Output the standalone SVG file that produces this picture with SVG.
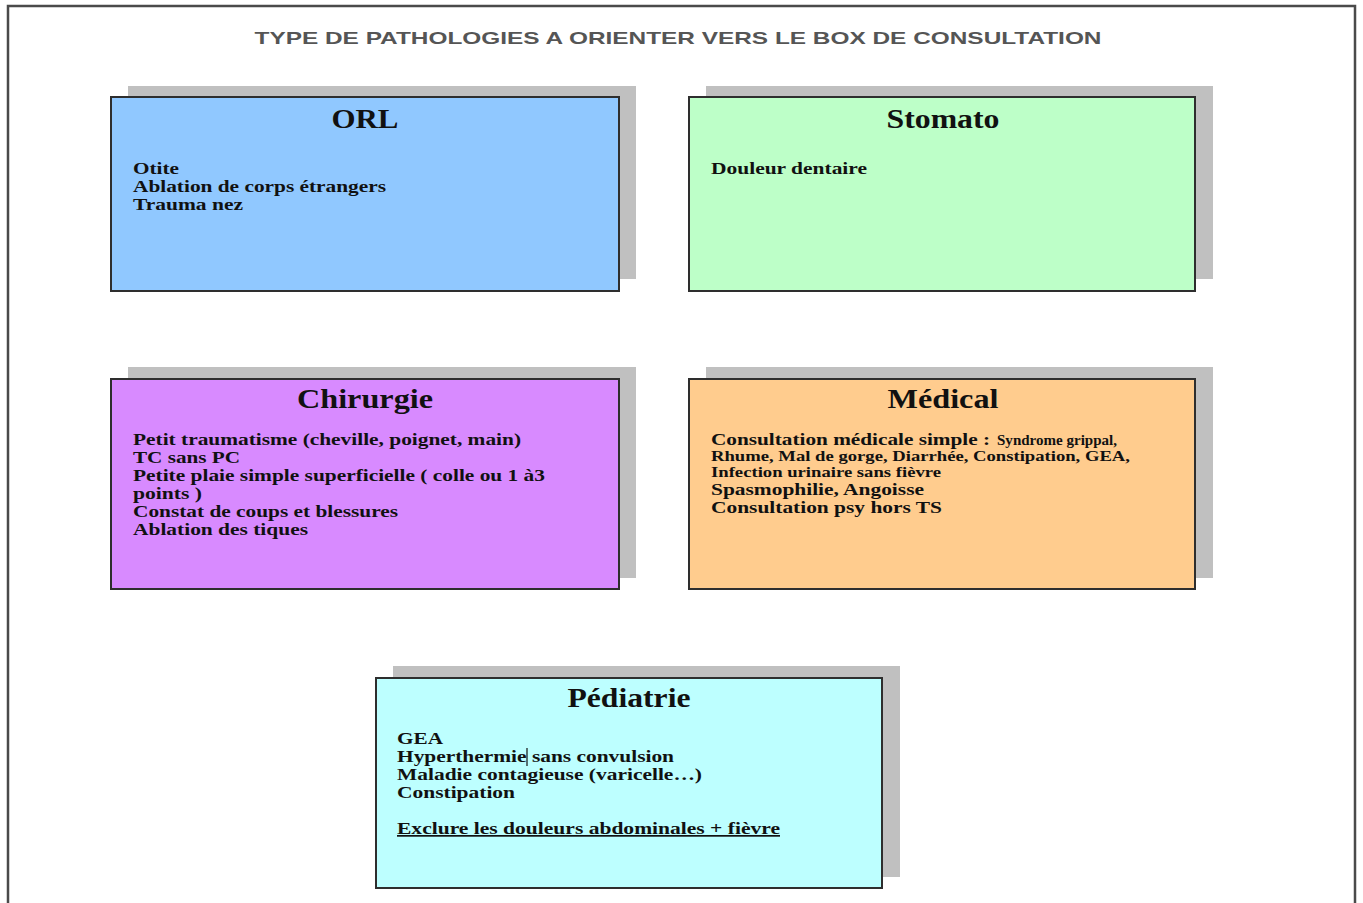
<svg xmlns="http://www.w3.org/2000/svg" width="1363" height="903" viewBox="0 0 1363 903">
<style>
.frame{fill:#fff;stroke:#4a4a4a;stroke-width:2.5}
.shadow{fill:#c0c0c0}
.box{stroke:#2e2e2e;stroke-width:2}
.head{font-family:"Liberation Sans",Arial,sans-serif;font-weight:bold;font-size:17px;fill:#555}
.ttl{font-family:"Liberation Serif","Times New Roman",serif;font-weight:bold;font-size:27px;fill:#111;text-anchor:middle}
.txt{font-family:"Liberation Serif","Times New Roman",serif;font-weight:bold;font-size:17px;fill:#111}
.sm{font-size:14px}
</style>
<rect width="1363" height="903" fill="#fff"/>
<path class="frame" d="M8,910 V6 H1355 V910"/>
<text class="head" x="678" y="44" text-anchor="middle" textLength="847" lengthAdjust="spacingAndGlyphs">TYPE DE PATHOLOGIES A ORIENTER VERS LE BOX DE CONSULTATION</text>
<g id="connectors"></g>
<g id="orl">
<rect class="shadow" x="128" y="86" width="508" height="193"/>
<rect class="box" x="111" y="97" width="508" height="194" fill="#90c8ff"/>
<text class="ttl" x="365" y="128" textLength="67" lengthAdjust="spacingAndGlyphs">ORL</text>
<text class="txt" x="133" y="174" textLength="46" lengthAdjust="spacingAndGlyphs">Otite</text>
<text class="txt" x="133" y="192" textLength="253" lengthAdjust="spacingAndGlyphs">Ablation de corps étrangers</text>
<text class="txt" x="133" y="210" textLength="110" lengthAdjust="spacingAndGlyphs">Trauma nez</text>
</g>
<g id="stomato">
<rect class="shadow" x="706" y="86" width="507" height="193"/>
<rect class="box" x="689" y="97" width="506" height="194" fill="#bdffc8"/>
<text class="ttl" x="943" y="128" textLength="113" lengthAdjust="spacingAndGlyphs">Stomato</text>
<text class="txt" x="711" y="174" textLength="156" lengthAdjust="spacingAndGlyphs">Douleur dentaire</text>
</g>
<g id="chirurgie">
<rect class="shadow" x="128" y="367" width="508" height="211"/>
<rect class="box" x="111" y="379" width="508" height="210" fill="#d88aff"/>
<text class="ttl" x="365" y="408" textLength="136" lengthAdjust="spacingAndGlyphs">Chirurgie</text>
<text class="txt" x="133" y="445" textLength="388" lengthAdjust="spacingAndGlyphs">Petit traumatisme (cheville, poignet, main)</text>
<text class="txt" x="133" y="463" textLength="107" lengthAdjust="spacingAndGlyphs">TC sans PC</text>
<text class="txt" x="133" y="481" textLength="412" lengthAdjust="spacingAndGlyphs">Petite plaie simple superficielle ( colle ou 1 à3</text>
<text class="txt" x="133" y="499" textLength="69" lengthAdjust="spacingAndGlyphs">points )</text>
<text class="txt" x="133" y="517" textLength="265" lengthAdjust="spacingAndGlyphs">Constat de coups et blessures</text>
<text class="txt" x="133" y="535" textLength="175" lengthAdjust="spacingAndGlyphs">Ablation des tiques</text>
</g>
<g id="medical">
<rect class="shadow" x="706" y="367" width="507" height="211"/>
<rect class="box" x="689" y="379" width="506" height="210" fill="#ffcc8e"/>
<text class="ttl" x="943" y="408" textLength="111" lengthAdjust="spacingAndGlyphs">Médical</text>
<text class="txt" x="711" y="445" textLength="279" lengthAdjust="spacingAndGlyphs">Consultation médicale simple :</text>
<text class="txt sm" x="997" y="445" textLength="120" lengthAdjust="spacingAndGlyphs">Syndrome grippal,</text>
<text class="txt sm" x="711" y="461" textLength="419" lengthAdjust="spacingAndGlyphs">Rhume, Mal de gorge, Diarrhée, Constipation, GEA,</text>
<text class="txt sm" x="711" y="477" textLength="230" lengthAdjust="spacingAndGlyphs">Infection urinaire sans fièvre</text>
<text class="txt" x="711" y="495" textLength="213" lengthAdjust="spacingAndGlyphs">Spasmophilie, Angoisse</text>
<text class="txt" x="711" y="513" textLength="231" lengthAdjust="spacingAndGlyphs">Consultation psy hors TS</text>
</g>
<g id="pediatrie">
<rect class="shadow" x="393" y="666" width="507" height="211"/>
<rect class="box" x="376" y="678" width="506" height="210" fill="#bdffff"/>
<text class="ttl" x="629" y="707" textLength="123" lengthAdjust="spacingAndGlyphs">Pédiatrie</text>
<text class="txt" x="397" y="744" textLength="46" lengthAdjust="spacingAndGlyphs">GEA</text>
<text class="txt" x="397" y="762" textLength="277" lengthAdjust="spacingAndGlyphs">Hyperthermie sans convulsion</text>
<line x1="527" y1="748" x2="527" y2="766" stroke="#111" stroke-width="1.2"/>
<text class="txt" x="397" y="780" textLength="305" lengthAdjust="spacingAndGlyphs">Maladie contagieuse (varicelle…)</text>
<text class="txt" x="397" y="798" textLength="118" lengthAdjust="spacingAndGlyphs">Constipation</text>
<text class="txt" x="397" y="834" textLength="383" lengthAdjust="spacingAndGlyphs" text-decoration="underline">Exclure les douleurs abdominales + fièvre</text>
</g>
</svg>
